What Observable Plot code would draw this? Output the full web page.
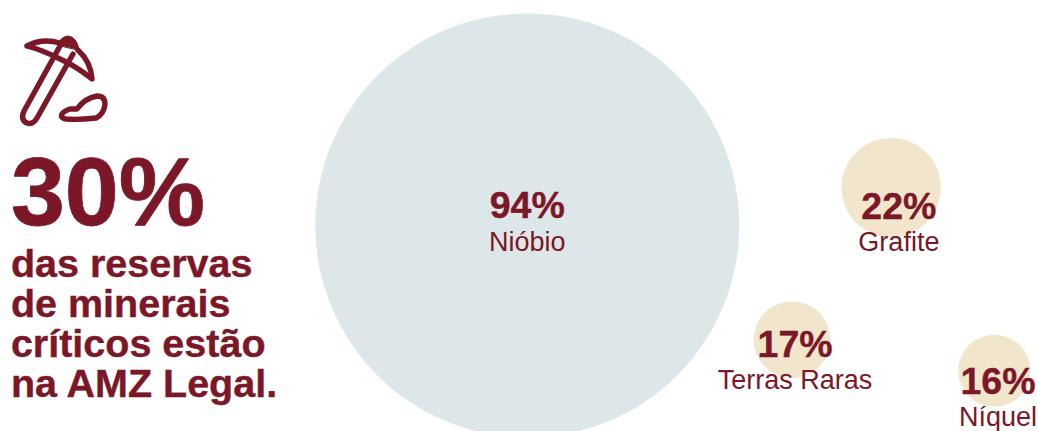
<!DOCTYPE html>
<html lang="pt">
<head>
<meta charset="utf-8">
<style>
html,body{margin:0;padding:0;background:#fff;overflow:hidden}
svg{display:block}
</style>
<script src="https://cdn.jsdelivr.net/npm/d3@7"></script>
<script src="https://cdn.jsdelivr.net/npm/@observablehq/plot@0.6"></script>
</head>
<body>
<div id="chart"></div>
<script>
// Share of each critical mineral's reserves located in the Legal Amazon
const minerals = ["Nióbio", "Grafite", "Terras Raras", "Níquel"];
const shares = [94, 22, 17, 16];
const groups = ["major", "minor", "minor", "minor"];
// Bubble and label placement on a 0–100 layout grid
const columns = [50.75, 85.8, 76.25, 95.75];
const rows = [52.2, 43.4, 78.7, 85.9];
const labelColumns = [50.75, 86.55, 76.55, 96.1];
const valueRows = [47.6, 47.8, 80.0, 88.6];
const nameRows = [56.0, 56.0, 88.1, 96.7];

const headline = "30%";
const headlineRow = [44.9];
const headlineLines = ["das reservas", "de minerais", "críticos estão", "na AMZ Legal."];
const headlineRows = [61.3, 70.6, 79.8, 89.1];

const wine = "#7b1727";
const font = "'Liberation Sans', Arial, sans-serif";

const table = minerals.map((name, i) => ({
  name, share: shares[i], group: groups[i],
  col: columns[i], row: rows[i],
  labelCol: labelColumns[i], valueRow: valueRows[i], nameRow: nameRows[i]
}));
const lines = headlineLines.map((text, i) => ({text, row: headlineRows[i]}));

// Pickaxe and rock pictogram
const pickaxeIcon = () => {
  const g = d3.create("svg:g")
    .attr("fill", "none").attr("stroke", wine).attr("stroke-width", 5.4)
    .attr("stroke-linejoin", "round").attr("stroke-linecap", "round");
  g.append("path").attr("d", "M60 46 L24 111 Q20 120 27 123 Q33 125 37 118 L73 54");
  g.append("path").attr("d", "M27 46 Q42 38 60 43 M78 50 Q91 62 92 79 Q76 66 58 58 Q42 50 27 46");
  g.append("path").attr("fill", wine).attr("stroke-width", 1)
    .attr("d", "M58 45 Q60 37 68 36 Q77 37 79 50 Z");
  g.append("path").attr("d", "M62 114 Q64 111 70 109 L77 109 Q85 98 97 96 Q105 96 105 104 Q104 114 96 118 Q78 120 66 119 Q60 118 62 114 Z");
  return g.node();
};

const chart = Plot.plot({
  width: 1038,
  height: 431,
  margin: 0,
  style: {background: "transparent", fontFamily: font},
  x: {domain: [0, 100], range: [0, 1038], axis: null},
  y: {domain: [0, 100], range: [0, 431], axis: null},
  r: {type: "linear", domain: [0, 94], range: [0, 212]},
  color: {domain: ["major", "minor"], range: ["#dde6e8", "#f1e6cc"]},
  marks: [
    Plot.dot(table, {x: "col", y: "row", r: "share", fill: "group"}),
    Plot.text(table, {
      x: "labelCol", y: "valueRow", text: d => `${d.share}%`, fill: wine,
      stroke: wine, strokeWidth: 0.4, fontWeight: "bold", fontSize: 37.5, lineAnchor: "middle"
    }),
    Plot.text(table, {
      x: "labelCol", y: "nameRow", text: "name", fill: wine, fontSize: 27, lineAnchor: "middle"
    }),
    Plot.text(headlineRow, {
      x: () => 1, y: d => d, text: () => headline, fill: wine, stroke: wine, strokeWidth: 0.8,
      fontWeight: "bold", fontSize: 97, textAnchor: "start", lineAnchor: "middle"
    }),
    Plot.text(lines, {
      x: () => 1, y: "row", text: "text", fill: wine, stroke: wine, strokeWidth: 0.4,
      fontWeight: "bold", fontSize: 39.5, textAnchor: "start", lineAnchor: "middle"
    }),
    pickaxeIcon
  ]
});
document.getElementById("chart").append(chart);
</script>
</body>
</html>
